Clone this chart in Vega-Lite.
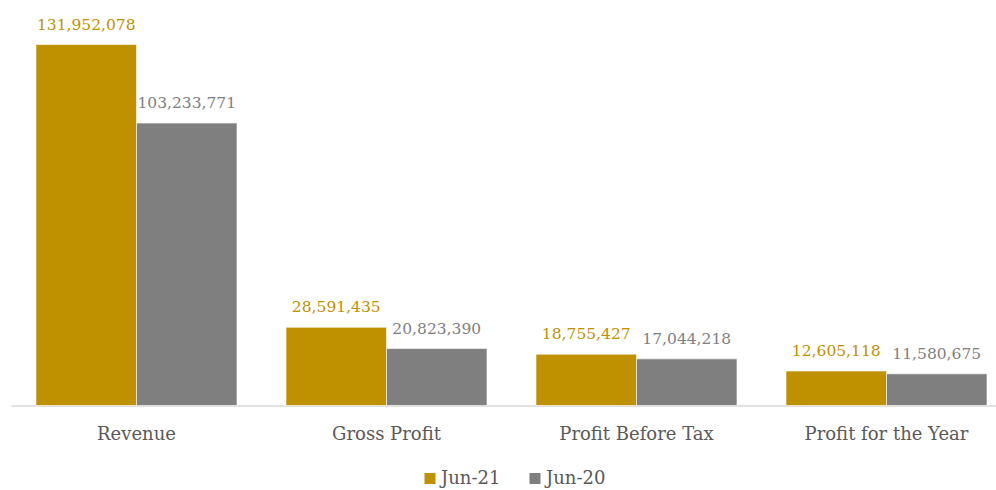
{
  "$schema": "https://vega.github.io/schema/vega-lite/v6.json",
  "width": 985,
  "height": 383,
  "autosize": {"type": "none"},
  "padding": {"left": 11, "top": 22.5, "right": 0, "bottom": 84.5},
  "background": "white",
  "config": {
    "view": {"stroke": null},
    "font": "DejaVu Serif"
  },
  "data": {
    "values": [
      {"category": "Revenue", "period": "Jun-21", "value": 131952078},
      {"category": "Revenue", "period": "Jun-20", "value": 103233771},
      {"category": "Gross Profit", "period": "Jun-21", "value": 28591435},
      {"category": "Gross Profit", "period": "Jun-20", "value": 20823390},
      {"category": "Profit Before Tax", "period": "Jun-21", "value": 18755427},
      {"category": "Profit Before Tax", "period": "Jun-20", "value": 17044218},
      {"category": "Profit for the Year", "period": "Jun-21", "value": 12605118},
      {"category": "Profit for the Year", "period": "Jun-20", "value": 11580675}
    ]
  },
  "encoding": {
    "x": {
      "field": "category",
      "type": "nominal",
      "sort": ["Revenue", "Gross Profit", "Profit Before Tax", "Profit for the Year"],
      "scale": {"paddingInner": 0.196, "paddingOuter": 0.068, "align": 0.735},
      "axis": {
        "title": null,
        "labelAngle": 0,
        "ticks": false,
        "domainColor": "#D9D9D9",
        "domainWidth": 1.5,
        "labelFont": "DejaVu Serif",
        "labelFontSize": 18,
        "labelColor": "#595959",
        "labelBaseline": "alphabetic",
        "labelPadding": 34
      }
    },
    "xOffset": {"field": "period", "type": "nominal", "sort": ["Jun-21", "Jun-20"]},
    "y": {
      "field": "value",
      "type": "quantitative",
      "scale": {"domain": [0, 140000000], "nice": false},
      "axis": null
    }
  },
  "layer": [
    {
      "mark": {"type": "bar", "stroke": "white", "strokeWidth": 1, "strokeOpacity": 0.6},
      "encoding": {
        "color": {
          "field": "period",
          "type": "nominal",
          "scale": {"domain": ["Jun-21", "Jun-20"], "range": ["#BF9000", "#7F7F7F"]},
          "legend": {
            "title": null,
            "orient": "none",
            "direction": "horizontal",
            "legendX": 410,
            "legendY": 447,
            "symbolType": "square",
            "symbolSize": 121,
            "symbolStrokeWidth": 0,
            "labelFont": "DejaVu Serif",
            "labelFontSize": 18,
            "labelColor": "#595959",
            "labelOffset": 2,
            "columnPadding": 25
          }
        }
      }
    },
    {
      "mark": {"type": "text", "baseline": "alphabetic", "align": "center", "dy": -15, "fontSize": 15.5, "font": "DejaVu Serif"},
      "encoding": {
        "text": {"field": "value", "type": "quantitative", "format": ","},
        "color": {
          "field": "period",
          "type": "nominal",
          "scale": {"domain": ["Jun-21", "Jun-20"], "range": ["#BF9000", "#7F7F7F"]},
          "legend": null
        }
      }
    }
  ]
}
